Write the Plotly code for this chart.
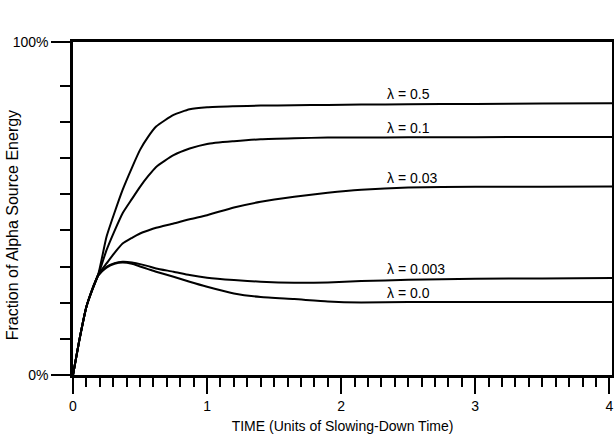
import plotly.graph_objects as go

# Time grid (units of slowing-down time)
time = [0, 0.05, 0.1, 0.15, 0.19, 0.25, 0.31, 0.37, 0.44, 0.5, 0.56, 0.62, 0.75, 0.87, 1.0,
        1.2, 1.4, 1.65, 1.9, 2.15, 2.5, 3.0, 3.5, 4.02]

# Fraction of alpha source energy (%)
lam_05 = [0, 11, 20.5, 26.5, 30.5, 41.5, 48.8, 55.6, 62.3, 67.6, 71.5, 74.6, 78.1, 79.8, 80.4,
          80.7, 80.9, 81.0, 81.1, 81.2, 81.3, 81.4, 81.5, 81.6]
lam_01 = [0, 11, 20.5, 26.5, 30.3, 37.5, 43.3, 48.6, 52.9, 56.5, 59.7, 62.5, 66.0, 68.0, 69.4,
          70.2, 70.8, 71.1, 71.3, 71.3, 71.4, 71.4, 71.5, 71.5]
lam_003 = [0, 11, 20.5, 26.2, 30.3, 33.5, 36.7, 39.5, 41.2, 42.5, 43.4, 44.2, 45.5, 46.8, 48.0,
           50.3, 52.0, 53.5, 54.7, 55.6, 56.3, 56.5, 56.5, 56.6]
lam_0003 = [0, 11, 20.5, 26.2, 30.0, 32.5, 33.6, 34.0, 33.8, 33.3, 32.7, 32.0, 31.0, 30.0, 29.2,
            28.5, 28.0, 27.7, 27.8, 28.2, 28.6, 28.9, 29.0, 29.1]
lam_00 = [0, 11, 20.5, 26.2, 30.0, 32.2, 33.4, 33.8, 33.4, 32.6, 31.8, 31.0, 29.5, 28.0, 26.5,
          24.5, 23.4, 22.8, 22.1, 21.8, 21.9, 21.9, 21.9, 21.9]

series = [lam_05, lam_01, lam_003, lam_0003, lam_00]
labels = ["λ = 0.5", "λ = 0.1", "λ = 0.03", "λ = 0.003", "λ = 0.0"]
label_x = 2.33

x_major_vals = [0, 1, 2, 3, 4]
y_major_vals = [0, 100]
y_major_text = ["0%", "100%"]
y_minor_vals = [10.85 * k for k in range(1, 9)]

x_title = "TIME (Units of Slowing-Down Time)"
y_title = "Fraction of Alpha Source Energy"

FONT = "Liberation Sans, Arial, Helvetica, sans-serif"

fig = go.Figure()
for vals in series:
    fig.add_trace(go.Scatter(x=time, y=vals, mode="lines",
                             line=dict(color="black", width=2, shape="spline", smoothing=0.5),
                             showlegend=False, hoverinfo="skip"))

for vals, lab in zip(series, labels):
    fig.add_annotation(x=label_x, y=vals[-1], text=lab, showarrow=False,
                       xanchor="left", yanchor="bottom", yshift=-1,
                       font=dict(family=FONT, size=14, color="black"))

# y-axis title (placed as rotated text in the left margin)
fig.add_annotation(xref="paper", yref="paper", x=-0.113, y=0.45, text=y_title,
                   textangle=-90, showarrow=False, xanchor="center", yanchor="middle",
                   font=dict(family=FONT, size=16, color="black"))

fig.update_layout(
    width=614, height=438,
    margin=dict(l=73, r=2, t=42, b=63, autoexpand=False),
    paper_bgcolor="white", plot_bgcolor="white",
    font=dict(family=FONT, size=13, color="black"),
    xaxis=dict(
        range=[0, 4.02], showgrid=False, zeroline=False, automargin=False,
        showline=True, linecolor="black", linewidth=2.5, mirror=True,
        ticks="outside", tickvals=x_major_vals, ticklen=16, tickwidth=2, tickcolor="black",
        minor=dict(dtick=0.1, tick0=0, ticks="outside", ticklen=9, tickwidth=1.5, tickcolor="black"),
        tickfont=dict(size=14), ticklabelstandoff=0,
        title=dict(text=x_title, font=dict(size=14), standoff=9),
    ),
    yaxis=dict(
        range=[0, 100], showgrid=False, zeroline=False, automargin=False,
        showline=True, linecolor="black", linewidth=2.5, mirror=True,
        ticks="outside", tickvals=y_major_vals, ticktext=y_major_text,
        ticklen=19, tickwidth=2, tickcolor="black",
        minor=dict(tickvals=y_minor_vals, ticks="outside", ticklen=10, tickwidth=2, tickcolor="black"),
        tickfont=dict(size=14),
    ),
)

fig.write_html("out.html", config={"displayModeBar": False},
               post_script="document.body.style.margin='0';document.body.style.padding='0';")
